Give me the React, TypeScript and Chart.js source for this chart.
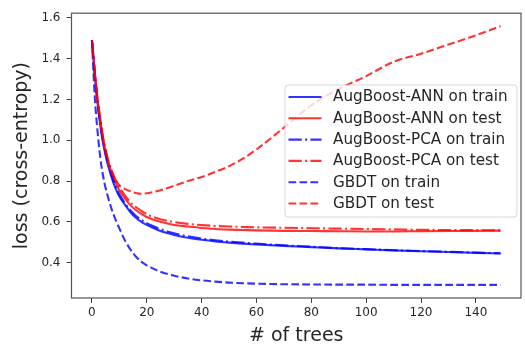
import React, { useEffect, useRef } from "react";
import { Chart, registerables } from "chart.js";

Chart.register(...registerables);

const xs = [0, 1, 2, 3, 4, 5, 6, 7, 8, 9, 10, 12, 14, 16, 18, 20, 22, 25, 30, 35, 40, 45, 50, 55, 60, 70, 80, 90, 100, 110, 120, 130, 140, 149];

const annTrain = [1.49, 1.33, 1.19, 1.08, 0.99, 0.925, 0.87, 0.825, 0.785, 0.752, 0.724, 0.685, 0.648, 0.62, 0.6, 0.585, 0.572, 0.555, 0.536, 0.522, 0.512, 0.504, 0.498, 0.493, 0.489, 0.482, 0.476, 0.47, 0.465, 0.46, 0.456, 0.452, 0.448, 0.445];
const annTest = [1.49, 1.34, 1.2, 1.1, 1.01, 0.945, 0.89, 0.85, 0.81, 0.78, 0.755, 0.715, 0.682, 0.658, 0.639, 0.624, 0.613, 0.6, 0.585, 0.577, 0.57, 0.565, 0.562, 0.56, 0.558, 0.556, 0.555, 0.554, 0.553, 0.553, 0.554, 0.555, 0.556, 0.557];
const pcaTrain = [1.49, 1.33, 1.19, 1.085, 1.0, 0.935, 0.88, 0.835, 0.797, 0.764, 0.735, 0.692, 0.657, 0.63, 0.61, 0.594, 0.581, 0.564, 0.544, 0.529, 0.518, 0.51, 0.503, 0.498, 0.493, 0.485, 0.478, 0.471, 0.466, 0.461, 0.457, 0.453, 0.449, 0.446];
const pcaTest = [1.49, 1.34, 1.21, 1.11, 1.02, 0.955, 0.9, 0.86, 0.825, 0.795, 0.77, 0.73, 0.697, 0.673, 0.654, 0.638, 0.626, 0.613, 0.599, 0.59, 0.584, 0.58, 0.577, 0.575, 0.573, 0.571, 0.569, 0.567, 0.565, 0.563, 0.561, 0.56, 0.559, 0.558];
const gbdtTrain = [1.49, 1.22, 1.05, 0.92, 0.83, 0.765, 0.715, 0.67, 0.632, 0.598, 0.568, 0.51, 0.465, 0.43, 0.405, 0.387, 0.373, 0.355, 0.336, 0.322, 0.313, 0.307, 0.302, 0.299, 0.297, 0.294, 0.293, 0.292, 0.292, 0.291, 0.291, 0.291, 0.291, 0.291];
const gbdtTest = [1.49, 1.34, 1.2, 1.1, 1.01, 0.945, 0.89, 0.85, 0.82, 0.797, 0.78, 0.762, 0.75, 0.742, 0.738, 0.74, 0.745, 0.755, 0.777, 0.8, 0.82, 0.845, 0.873, 0.91, 0.955, 1.062, 1.172, 1.252, 1.315, 1.385, 1.425, 1.47, 1.515, 1.56];

const seriesLabels = [
  "AugBoost-ANN on train",
  "AugBoost-ANN on test",
  "AugBoost-PCA on train",
  "AugBoost-PCA on test",
  "GBDT on train",
  "GBDT on test",
];
const seriesValues = [annTrain, annTest, pcaTrain, pcaTest, gbdtTrain, gbdtTest];

const xTicks = [0, 20, 40, 60, 80, 100, 120, 140];
const yTicks = [0.4, 0.6, 0.8, 1.0, 1.2, 1.4, 1.6];

const BLUE = "rgba(0,0,255,0.8)";
const RED = "rgba(255,0,0,0.8)";
const colors = [BLUE, RED, BLUE, RED, BLUE, RED];
const DASHED = [7.7, 3.3];
const DASHDOT = [13.3, 3.3, 2, 3.3];
const dashes: number[][] = [[], [], DASHDOT, DASHDOT, DASHED, DASHED];
const FONT = "'DejaVu Sans', sans-serif";

const framePlugin = {
  id: "frame",
  afterDatasetsDraw(chart: any) {
    const { ctx, chartArea } = chart;
    ctx.save();
    ctx.strokeStyle = "#555";
    ctx.lineWidth = 1.2;
    ctx.strokeRect(chartArea.left, chartArea.top, chartArea.right - chartArea.left, chartArea.bottom - chartArea.top);
    ctx.restore();
  },
};

const legendPlugin = {
  id: "mplLegend",
  afterDraw(chart: any) {
    const ctx = chart.ctx;
    const boxL = 285, boxT = 85, boxR = 517, boxB = 217;
    ctx.save();
    ctx.beginPath();
    const r = 3;
    ctx.moveTo(boxL + r, boxT);
    ctx.lineTo(boxR - r, boxT);
    ctx.quadraticCurveTo(boxR, boxT, boxR, boxT + r);
    ctx.lineTo(boxR, boxB - r);
    ctx.quadraticCurveTo(boxR, boxB, boxR - r, boxB);
    ctx.lineTo(boxL + r, boxB);
    ctx.quadraticCurveTo(boxL, boxB, boxL, boxB - r);
    ctx.lineTo(boxL, boxT + r);
    ctx.quadraticCurveTo(boxL, boxT, boxL + r, boxT);
    ctx.closePath();
    ctx.fillStyle = "rgba(255,255,255,0.8)";
    ctx.fill();
    ctx.strokeStyle = "rgba(204,204,204,0.8)";
    ctx.lineWidth = 1;
    ctx.stroke();
    const ds = chart.data.datasets;
    ctx.font = `15.2px ${FONT}`;
    ctx.textBaseline = "middle";
    ctx.textAlign = "left";
    for (let i = 0; i < ds.length; i++) {
      const y = 97 + i * 21.3;
      ctx.beginPath();
      ctx.setLineDash(ds[i].borderDash || []);
      ctx.strokeStyle = ds[i].borderColor;
      ctx.lineWidth = ds[i].borderWidth;
      ctx.moveTo(288.5, y);
      ctx.lineTo(321.5, y);
      ctx.stroke();
      ctx.setLineDash([]);
      ctx.fillStyle = "#262626";
      ctx.fillText(ds[i].label, 333, y + 0.5);
    }
    ctx.restore();
  },
};

export default function App() {
  const ref = useRef<HTMLCanvasElement | null>(null);
  useEffect(() => {
    if (!ref.current) return;
    const datasets = seriesLabels.map((label, i) => ({
      label,
      data: xs.map((x, j) => ({ x, y: seriesValues[i][j] })),
      borderColor: colors[i],
      backgroundColor: colors[i],
      borderDash: dashes[i],
      borderWidth: 2.1,
      pointRadius: 0,
      fill: false,
      cubicInterpolationMode: "monotone" as const,
      order: seriesLabels.length - 1 - i,
    }));
    const chart = new Chart(ref.current, {
      type: "line",
      data: { datasets },
      options: {
        animation: false,
        responsive: false,
        devicePixelRatio: 1,
        layout: { padding: { top: 4, right: 4, left: 0, bottom: 0 } },
        plugins: { legend: { display: false }, tooltip: { enabled: false } },
        scales: {
          x: {
            type: "linear",
            min: -7.45,
            max: 156.45,
            afterFit: (s: any) => { s.height = 56; },
            afterBuildTicks: (s: any) => { s.ticks = xTicks.map((v) => ({ value: v })); },
            grid: { drawOnChartArea: false, drawTicks: true, tickLength: 5, color: "#444" },
            border: { display: false },
            ticks: { color: "#262626", font: { family: FONT, size: 12 }, padding: 3, maxRotation: 0, callback: (v: any) => String(v) },
            title: { display: true, text: "# of trees", color: "#262626", font: { family: FONT, size: 19 }, padding: { top: 0, bottom: 6.6 } },
          },
          y: {
            type: "linear",
            min: 0.2265,
            max: 1.6235,
            afterFit: (s: any) => { s.width = 71.5; },
            afterBuildTicks: (s: any) => { s.ticks = yTicks.map((v) => ({ value: v })); },
            grid: { drawOnChartArea: false, drawTicks: true, tickLength: 5, color: "#444" },
            border: { display: false },
            ticks: { color: "#262626", font: { family: FONT, size: 12 }, padding: 6, callback: (v: any) => Number(v).toFixed(1) },
            title: { display: true, text: "loss (cross-entropy)", color: "#262626", font: { family: FONT, size: 19 }, padding: { top: 11, bottom: 0 } },
          },
        },
      },
      plugins: [framePlugin, legendPlugin],
    });
    return () => chart.destroy();
  }, []);
  return (
    <div style={{ position: "fixed", left: 0, top: 0, width: 525, height: 354, background: "#fff" }}>
      <canvas ref={ref} width={525} height={354} style={{ display: "block" }} />
    </div>
  );
}
